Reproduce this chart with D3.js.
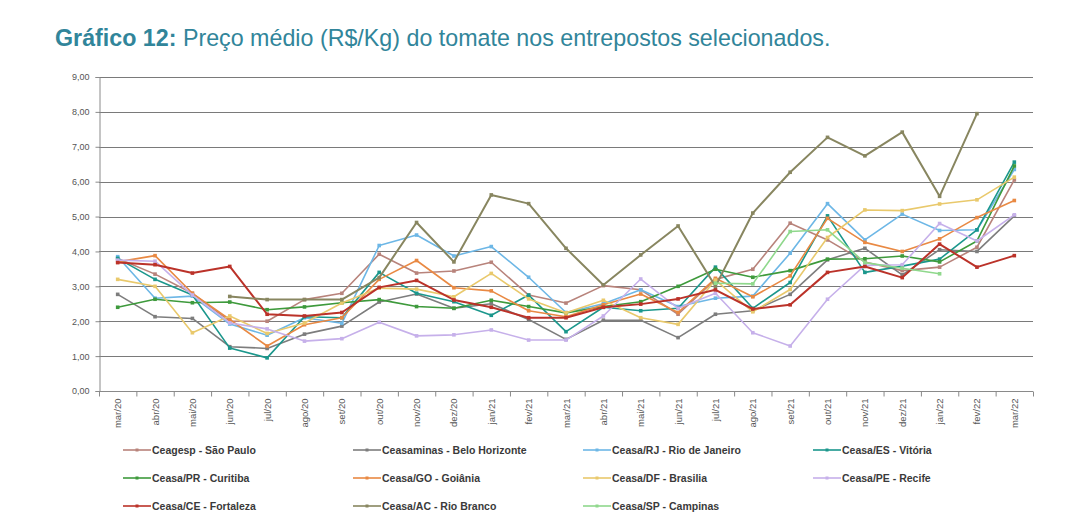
<!DOCTYPE html>
<html>
<head>
<meta charset="utf-8">
<script src="https://cdn.jsdelivr.net/npm/d3@7"></script>
<style>
  body { margin: 0; background: #fff; }
  svg { display: block; font-family: "Liberation Sans", Arial, sans-serif; }
  .grid line { stroke: #7a7a7a; stroke-width: 1; }
  .axis text { fill: #555; font-size: 9px; }
  .axis .xlab { font-size: 9.5px; }
  .axis path, .axis line { stroke: #8a8a8a; }
  .legend-text { fill: #3a3a3a; font-size: 10.5px; font-weight: bold; }
</style>
</head>
<body>
<svg id="chart"></svg>
<script>
const months = ["mar/20", "abr/20", "mai/20", "jun/20", "jul/20", "ago/20", "set/20", "out/20", "nov/20",
  "dez/20", "jan/21", "fev/21", "mar/21", "abr/21", "mai/21", "jun/21", "jul/21", "ago/21", "set/21",
  "out/21", "nov/21", "dez/21", "jan/22", "fev/22", "mar/22"];

const yTicks = [0, 1, 2, 3, 4, 5, 6, 7, 8, 9];

const ceagesp = [3.80, 3.35, 2.80, 2.00, 2.00, 2.62, 2.80, 3.92, 3.38, 3.44, 3.69, 2.75, 2.52, 3.02, 2.90, 2.20, 3.20, 3.49, 4.81, 4.33, 3.70, 3.45, 3.55, 4.12, 6.05];
const ceasaminas = [2.77, 2.13, 2.08, 1.27, 1.22, 1.63, 1.86, 2.55, 2.78, 2.37, 2.50, 2.05, 1.48, 2.03, 2.03, 1.53, 2.20, 2.30, 2.77, 3.76, 4.09, 3.33, 4.05, 4.00, 5.02];
const rioDeJaneiro = [3.85, 2.66, 2.72, 1.92, 1.60, 2.10, 1.94, 4.17, 4.47, 3.87, 4.14, 3.26, 2.25, 2.50, 2.90, 2.42, 2.66, 2.72, 3.95, 5.37, 4.33, 5.07, 4.60, 4.62, 6.35];
const vitoria = [3.80, 3.20, 2.75, 1.23, 0.95, 2.13, 2.10, 3.40, 2.80, 2.56, 2.17, 2.75, 1.70, 2.40, 2.30, 2.37, 3.55, 2.37, 3.11, 5.02, 3.40, 3.58, 3.78, 4.62, 6.56];
const curitiba = [2.40, 2.63, 2.53, 2.55, 2.33, 2.41, 2.53, 2.62, 2.42, 2.37, 2.60, 2.42, 2.24, 2.42, 2.56, 3.00, 3.49, 3.26, 3.45, 3.78, 3.79, 3.87, 3.70, 4.30, 6.45];
const goiania = [3.70, 3.88, 2.80, 2.05, 1.29, 1.90, 2.10, 3.20, 3.74, 2.96, 2.87, 2.30, 2.13, 2.47, 2.78, 2.25, 3.23, 2.70, 3.30, 4.95, 4.26, 4.00, 4.36, 4.97, 5.46];
const brasilia = [3.20, 3.00, 1.67, 2.15, 1.65, 1.95, 2.52, 2.95, 2.92, 2.70, 3.37, 2.64, 2.24, 2.60, 2.10, 1.91, 3.18, 2.27, 2.91, 4.40, 5.19, 5.17, 5.36, 5.48, 6.13];
const recife = [3.75, 3.72, 2.75, 1.95, 1.78, 1.43, 1.50, 1.97, 1.58, 1.61, 1.75, 1.46, 1.46, 2.15, 3.21, 2.37, 2.80, 1.67, 1.29, 2.63, 3.60, 3.62, 4.80, 4.30, 5.05];
const fortaleza = [3.68, 3.62, 3.38, 3.57, 2.20, 2.15, 2.25, 2.97, 3.17, 2.61, 2.40, 2.10, 2.10, 2.40, 2.49, 2.64, 2.90, 2.35, 2.47, 3.40, 3.57, 3.25, 4.21, 3.55, 3.88];
const rioBranco = [null, null, null, 2.71, 2.62, 2.62, 2.62, 3.25, 4.83, 3.70, 5.62, 5.37, 4.09, 3.04, 3.90, 4.73, 3.00, 5.10, 6.27, 7.27, 6.74, 7.42, 5.58, 7.95, null];
const campinas = [null, null, null, null, null, null, null, null, null, null, null, null, null, null, null, null, 3.09, 3.07, 4.57, 4.62, 3.68, 3.52, 3.36, null, null];

const seriesNames = ["Ceagesp - São Paulo", "Ceasaminas - Belo Horizonte", "Ceasa/RJ - Rio de Janeiro", "Ceasa/ES - Vitória",
  "Ceasa/PR - Curitiba", "Ceasa/GO - Goiânia", "Ceasa/DF - Brasilia", "Ceasa/PE - Recife",
  "Ceasa/CE - Fortaleza", "Ceasa/AC - Rio Branco", "Ceasa/SP - Campinas"];
const seriesValues = [ceagesp, ceasaminas, rioDeJaneiro, vitoria, curitiba, goiania, brasilia, recife, fortaleza, rioBranco, campinas];

const colors = new Map();
colors.set("Ceagesp - São Paulo", "#b8837b");
colors.set("Ceasaminas - Belo Horizonte", "#7d7d7d");
colors.set("Ceasa/RJ - Rio de Janeiro", "#6db7e6");
colors.set("Ceasa/ES - Vitória", "#1b978c");
colors.set("Ceasa/PR - Curitiba", "#3e9a3c");
colors.set("Ceasa/GO - Goiânia", "#e98943");
colors.set("Ceasa/DF - Brasilia", "#e9c96c");
colors.set("Ceasa/PE - Recife", "#c6b0ea");
colors.set("Ceasa/CE - Fortaleza", "#bb3229");
colors.set("Ceasa/AC - Rio Branco", "#888660");
colors.set("Ceasa/SP - Campinas", "#8fd88c");

const width = 1085;
const height = 527;

const svg = d3.select("#chart").attr("width", width).attr("height", height);

// title
const title = svg.append("text")
  .attr("x", 55)
  .attr("y", 46)
  .attr("fill", "#31859a")
  .style("font-size", "20px");
title.append("tspan").attr("font-weight", "bold").text("Gráfico 12:");
title.append("tspan").text(" Preço médio (R$/Kg) do tomate nos entrepostos selecionados.");
const tw = title.node().getComputedTextLength();
title.style("font-size", (20 * 776 / tw) + "px");

const x = d3.scaleBand().domain(months).range([99, 1033]).padding(0);
const y = d3.scaleLinear().domain([0, 9]).range([391, 77]);
const xc = (m) => x(m) + x.bandwidth() / 2;

// gridlines
svg.append("g")
  .classed("grid", true)
  .selectAll("line")
  .data(yTicks.filter((d) => d > 0))
  .join("line")
  .attr("x1", 99)
  .attr("x2", 1033)
  .attr("y1", (d) => Math.round(y(d)) + 0.5)
  .attr("y2", (d) => Math.round(y(d)) + 0.5);

// y axis
const yAxis = svg.append("g")
  .classed("axis", true)
  .attr("transform", "translate(99.5,0)")
  .call(d3.axisLeft(y).tickValues(yTicks).tickSize(4).tickPadding(6)
    .tickFormat((d) => d3.format(".2f")(d).replace(".", ",")));
yAxis.select(".domain").attr("stroke", "#8a8a8a");

// x axis, ticks between categories
const xAxis = svg.append("g")
  .classed("axis", true)
  .attr("transform", "translate(0,391.5)");
xAxis.append("line")
  .attr("x1", 99).attr("x2", 1033)
  .attr("stroke", "#8a8a8a");
xAxis.selectAll("line.tk")
  .data(d3.range(months.length + 1))
  .join("line")
  .classed("tk", true)
  .attr("x1", (i) => 99.5 + i * x.step())
  .attr("x2", (i) => 99.5 + i * x.step())
  .attr("y1", 0)
  .attr("y2", 5)
  .attr("stroke", "#8a8a8a");
xAxis.selectAll("text")
  .data(months)
  .join("text")
  .classed("xlab", true)
  .attr("transform", (d) => `translate(${xc(d) + 3.5},7) rotate(-90)`)
  .attr("text-anchor", "end")
  .text((d) => d);

// series
const line = d3.line()
  .defined((d) => d.v !== null)
  .x((d) => xc(d.m))
  .y((d) => y(d.v));

const series = seriesNames.map((name, i) => ({
  name: name,
  points: seriesValues[i].map((v, j) => ({ m: months[j], v: v })),
}));

const lines = svg.append("g");
series.forEach((s) => {
  lines.append("path")
    .datum(s.points)
    .attr("d", line)
    .attr("fill", "none")
    .attr("stroke", colors.get(s.name))
    .attr("stroke-width", s.name === "Ceasa/CE - Fortaleza" || s.name === "Ceasa/AC - Rio Branco" ? 2 : 1.6)
    .attr("stroke-linejoin", "round");
  lines.append("g")
    .selectAll("rect")
    .data(s.points.filter((d) => d.v !== null))
    .join("rect")
    .attr("x", (d) => xc(d.m) - 1.8)
    .attr("y", (d) => y(d.v) - 1.8)
    .attr("width", 3.6)
    .attr("height", 3.6)
    .attr("fill", colors.get(s.name));
});

// legend
const legendCols = [123, 353, 583, 813];
const legendRows = [450, 478, 506];
const legend = svg.append("g");
const items = legend.selectAll("g")
  .data(seriesNames)
  .join("g")
  .attr("transform", (d, i) => `translate(${legendCols[i % 4]},${legendRows[Math.floor(i / 4)]})`);
items.append("line")
  .attr("x1", 0).attr("x2", 28)
  .attr("stroke", (d) => colors.get(d))
  .attr("stroke-width", 1.6);
items.append("rect")
  .attr("x", 12.5).attr("y", -1.5)
  .attr("width", 3).attr("height", 3)
  .attr("fill", (d) => colors.get(d));
items.append("text")
  .attr("x", 29)
  .attr("y", 4)
  .classed("legend-text", true)
  .text((d) => d);
</script>
</body>
</html>
